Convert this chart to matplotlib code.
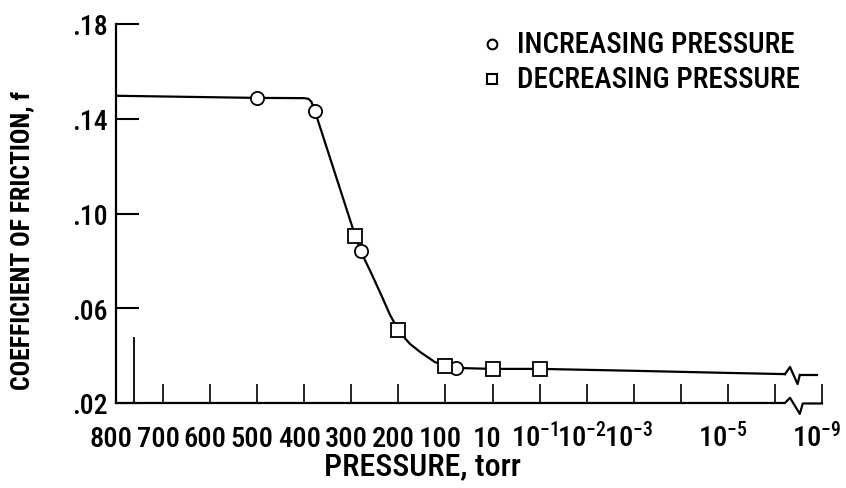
import numpy as np
import matplotlib
matplotlib.use('Agg')
import matplotlib.pyplot as plt
from matplotlib import font_manager
from matplotlib.lines import Line2D
from matplotlib.transforms import ScaledTranslation

# narrow lettering if the machine has one, else plain DejaVu a bit smaller
have = {f.name for f in font_manager.fontManager.ttflist}
FONT, SCALE = 'DejaVu Sans', 0.72
for name in ['Roboto Condensed', 'Archivo Narrow', 'PT Sans Narrow', 'Liberation Sans Narrow']:
    if name in have:
        FONT, SCALE = name, 1.0
        break
plt.rcParams['font.family'] = [FONT, 'DejaVu Sans']
plt.rcParams['font.weight'] = 500
plt.rcParams['mathtext.fontset'] = 'custom'
plt.rcParams['mathtext.rm'] = FONT + ':medium'
plt.rcParams['mathtext.it'] = FONT + ':italic'
plt.rcParams['mathtext.bf'] = FONT + ':bold'

# x axis is not a real scale: every tick is one equal step
tick_p = [800, 700, 600, 500, 400, 300, 200, 100, 10, 1e-1, 1e-2, 1e-3, 1e-4, 1e-5, 1e-6, 1e-9]
tick_labels = ['800', '700', '600', '500', '400', '300', '200', '100', '10',
               r'$10^{-1}$', r'$10^{-2}$', r'$10^{-3}$', '', r'$10^{-5}$', '', r'$10^{-9}$']
y_ticks = [0.02, 0.06, 0.10, 0.14, 0.18]
y_labels = ['.02', '.06', '.10', '.14', '.18']

# measured points (torr, f)
inc_p = [500, 375, 277, 60]
inc_f = [0.1488, 0.1433, 0.0842, 0.0348]
dec_p = [290, 200, 100, 10, 0.1]
dec_f = [0.0905, 0.0508, 0.0356, 0.0344, 0.0344]

# faired curve
curve_p = [800, 500, 400, 390, 383, 375, 290, 277, 252, 230, 215, 200, 187, 169, 145, 117, 100, 60, 10,
           0.1, 1e-3, 1e-5, 2.3e-7]
curve_f = [0.1497, 0.1488, 0.1487, 0.1484, 0.1472, 0.1433, 0.0905, 0.0842, 0.0745, 0.0647, 0.0572, 0.0508,
           0.0483, 0.0450, 0.0415, 0.0373, 0.0356, 0.0348, 0.0344, 0.0344, 0.0336, 0.0327, 0.0322]
tail_p = [2.6e-8, 2e-9]
tail_f = [0.0318, 0.0318]

atm_p = 760      # atmospheric marker line
atm_top = 0.048

tick_pos = np.arange(len(tick_p))


def to_pos(p):
    p = np.asarray(p, dtype=float)
    return np.interp(-np.log10(p), -np.log10(tick_p), tick_pos)


W, H = 846, 489
fig = plt.figure(figsize=(W / 100, H / 100), dpi=100)
ax = fig.add_axes([116 / W, 1 - 404 / H, (822 - 116) / W, (404 - 25) / H])
ax.set_xlim(0, tick_pos[-1])
ax.set_ylim(0.02, 0.18)

for s in ['top', 'right', 'bottom']:
    ax.spines[s].set_visible(False)
ax.spines['left'].set_linewidth(1.6)

# curve and break
ax.plot(to_pos(curve_p), curve_f, color='black', lw=1.6, zorder=2)
ax.plot(to_pos(tail_p), tail_f, color='black', lw=1.6, zorder=2)
bx0 = float(to_pos(curve_p[-1]))
bx1 = float(to_pos(tail_p[0]))
bw = bx1 - bx0
ax.plot([bx0, bx0 + 0.34 * bw, bx0 + 0.85 * bw, bx1],
        [curve_f[-1], curve_f[-1] + 0.003, curve_f[-1] - 0.0042, tail_f[0]],
        color='black', lw=1.6, zorder=2)

# bottom axis drawn by hand because of the break
ax.plot([0, bx0, bx0 + 0.34 * bw, bx0 + bw, bx0 + 1.2 * bw, tick_pos[-1]],
        [0.02, 0.02, 0.0222, 0.0154, 0.0198, 0.0198],
        color='black', lw=1.6, clip_on=False, zorder=3)

ax.vlines(to_pos(atm_p), 0.02, atm_top, color='black', lw=1.3)

ax.plot(to_pos(inc_p), inc_f, 'o', ms=9.5, mfc='white', mec='black', mew=1.3, zorder=4, clip_on=False)
ax.plot(to_pos(dec_p), dec_f, 's', ms=9.5, mfc='white', mec='black', mew=1.3, zorder=4, clip_on=False)

ax.set_yticks(y_ticks)
ax.set_yticklabels(y_labels)
ax.tick_params(axis='y', direction='in', length=16.5, width=1.5, pad=6, labelsize=20 * SCALE)

ax.set_xticks(tick_pos)
ax.set_xticklabels(tick_labels)
ax.tick_params(axis='x', direction='in', length=13.5, width=1.2, pad=31, labelsize=20.5 * SCALE)
shift = ScaledTranslation(-5 / 100, 0, fig.dpi_scale_trans)
for lbl in ax.get_xticklabels():
    lbl.set_verticalalignment('baseline')
    lbl.set_transform(lbl.get_transform() + shift)

fig.text(22 / W, 1 - 240 / H, 'COEFFICIENT OF FRICTION, f', rotation=90,
         ha='center', va='center', fontsize=18.5 * SCALE, fontweight='bold')
fig.text(422 / W, 1 - 467 / H, 'PRESSURE, torr', ha='center', va='center', fontsize=23 * SCALE)

# legend by hand
leg = [('o', 'INCREASING PRESSURE', 45), ('s', 'DECREASING PRESSURE', 80)]
for m, txt, yy in leg:
    fig.add_artist(Line2D([492 / W], [1 - yy / H], marker=m, ls='none', ms=7,
                          mfc='white', mec='black', mew=1.5, transform=fig.transFigure))
    fig.text(517 / W, 1 - yy / H, txt, ha='left', va='center', fontsize=21 * SCALE)

fig.savefig('out.png', dpi=100)
